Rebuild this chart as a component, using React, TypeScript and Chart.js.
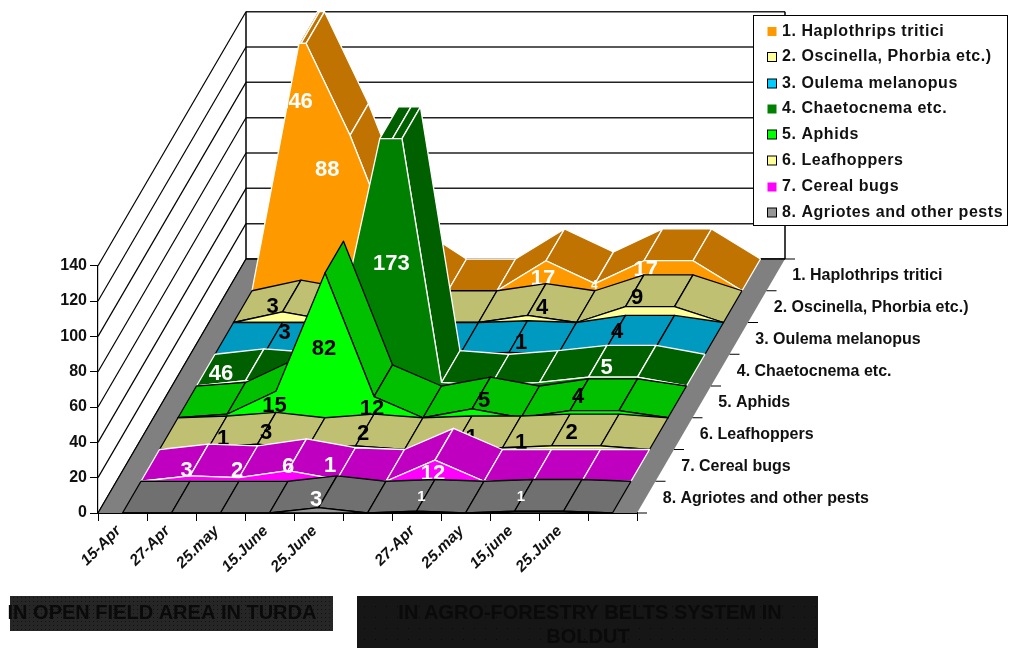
import React, { useEffect, useRef } from "react";
import { Chart, registerables } from "chart.js";

Chart.register(...registerables);

const FONT = "'Liberation Sans', Arial, sans-serif";

const categories = ["15-Apr", "27-Apr", "25.may", "15.June", "25.June", "", "27-Apr", "25.may", "15.june", "25.June", ""];

const seriesNames = [
  "1. Haplothrips tritici",
  "2. Oscinella, Phorbia etc.)",
  "3. Oulema melanopus",
  "4. Chaetocnema etc.",
  "5. Aphids",
  "6. Leafhoppers",
  "7. Cereal bugs",
  "8. Agriotes and other pests",
];

const haplothrips = [0, 146, 88, 18, 0, 0, 17, 4, 17, 17, 0];
const oscinella = [0, 6, 1, 3, 0, 0, 4, 0, 9, 9, 0];
const oulema = [0, 0, 0, 3, 0, 0, 1, 0, 4, 4, 0];
const chaetocnema = [0, 3, 1, 46, 173, 2, 0, 2, 5, 5, 0];
const aphids = [0, 2, 15, 82, 12, 0, 5, 0, 4, 4, 0];
const leafhoppers = [0, 1, 3, 0, 2, 0, 1, 1, 2, 2, 0];
const cerealBugs = [0, 3, 2, 6, 1, 0, 12, 0, 0, 0, 0];
const agriotes = [0, 0, 0, 0, 3, 0, 1, 0, 1, 1, 0];

const seriesValues = [haplothrips, oscinella, oulema, chaetocnema, aphids, leafhoppers, cerealBugs, agriotes];

// Which categories of each series carry a printed value.
const labelledPoints = [
  [1, 2, 6, 7, 8],
  [3, 6, 8],
  [3, 6, 8],
  [3, 4, 8],
  [2, 3, 4, 6, 8],
  [1, 2, 4, 6, 7, 8],
  [1, 2, 3, 4, 6],
  [4, 6, 8],
];

// Hand placement of those values, relative to the foot of the point: [dx, dy, font size].
const labelPlacement: number[][][] = [
  [[-6.5, -190, 22], [-22.8, -121.5, 22], [-3, -12.5, 22], [-0.7, -5.7, 12], [1.7, -21.5, 22]],
  [[-108, -16.5, 22], [14.5, -15.5, 22], [11.5, -25.5, 22]],
  [[-77.3, -22.3, 22], [12, -12, 22], [10, -23.3, 22]],
  [[-122.5, -12.7, 22], [-1.2, -122.7, 22], [18.2, -19.3, 22]],
  [[-1.5, -12.75, 22], [-1, -69.75, 22], [-2, -9.75, 22], [12, -17.75, 22], [8, -22, 22]],
  [[14.5, -11.5, 22], [8.5, -17.8, 22], [7.5, -16.8, 22], [18, -12.8, 22], [18.5, -7.8, 22], [20, -17.5, 22]],
  [[-3.3, -11, 22], [-1.8, -11, 22], [0, -15.5, 22], [-7, -16, 22], [-2, -8, 22]],
  [[-2.5, -14, 22], [5, -17, 15], [6.5, -17, 15]],
];

const faceColors = ["#ff9900", "#ffff99", "#00ccff", "#008000", "#00ff00", "#ffff99", "#ff00ff", "#969696"];
const topColors = ["#c07300", "#c0c073", "#0099bf", "#006000", "#00c000", "#c0c073", "#c000c0", "#707070"];
const edgeColors = ["#ffffff", "#000000", "#000000", "#ffffff", "#000000", "#000000", "#ffffff", "#000000"];
const valueColors = ["#ffffff", "#000000", "#000000", "#ffffff", "#000000", "#000000", "#ffffff", "#ffffff"];

const yMax = 140;
const depthCount = seriesNames.length;
const depthDX = 18.5;
const depthDY = 31.75;

type Pt = { x: number; y: number };
type Knot = { i: number; v: number };

// Values above the axis maximum are cut off flat, so add the crossing points to the profile.
function clippedProfile(values: number[]): Knot[] {
  const out: Knot[] = [];
  values.forEach((v, i) => {
    if (i > 0) {
      const p = values[i - 1];
      if ((p - yMax) * (v - yMax) < 0) out.push({ i: i - 1 + (yMax - p) / (v - p), v: yMax });
    }
    out.push({ i, v: Math.min(v, yMax) });
  });
  return out;
}

function poly(ctx: CanvasRenderingContext2D, pts: Pt[], fill: string, stroke: string | null) {
  ctx.beginPath();
  pts.forEach((p, n) => (n ? ctx.lineTo(p.x, p.y) : ctx.moveTo(p.x, p.y)));
  ctx.closePath();
  ctx.fillStyle = fill;
  ctx.fill();
  if (stroke) {
    ctx.strokeStyle = stroke;
    ctx.lineWidth = 1.3;
    ctx.lineJoin = "round";
    ctx.stroke();
  }
}

function line(ctx: CanvasRenderingContext2D, a: Pt, b: Pt, color = "#000", width = 1) {
  ctx.beginPath();
  ctx.moveTo(a.x, a.y);
  ctx.lineTo(b.x, b.y);
  ctx.strokeStyle = color;
  ctx.lineWidth = width;
  ctx.stroke();
}

const walls3d = {
  id: "walls3d",
  beforeDatasetsDraw(chart: any) {
    const { ctx, scales } = chart;
    const xs = scales.x;
    const ys = scales.y;
    const left = xs.left;
    const right = xs.right;
    const bottom = ys.getPixelForValue(0);
    const backDX = depthDX * depthCount;
    const backDY = depthDY * depthCount;
    ctx.save();
    for (const tick of ys.ticks) {
      const y = ys.getPixelForValue(tick.value);
      line(ctx, { x: left, y }, { x: left + backDX, y: y - backDY }, "#000", 1.2);
      line(ctx, { x: left + backDX, y: y - backDY }, { x: right + backDX, y: y - backDY }, "#222", 1.5);
    }
    const top = ys.getPixelForValue(yMax);
    line(ctx, { x: left + backDX, y: bottom - backDY }, { x: left + backDX, y: top - backDY }, "#000", 1.5);
    line(ctx, { x: right + backDX, y: bottom - backDY }, { x: right + backDX, y: top - backDY }, "#000", 1.5);
    poly(
      ctx,
      [
        { x: left, y: bottom },
        { x: right, y: bottom },
        { x: right + backDX, y: bottom - backDY },
        { x: left + backDX, y: bottom - backDY },
      ],
      "#808080",
      null
    );
    line(ctx, { x: left, y: bottom }, { x: left + backDX, y: bottom - backDY }, "#000", 1.2);
    line(ctx, { x: left + backDX, y: bottom - backDY }, { x: right + backDX, y: bottom - backDY }, "#000", 1.5);
    // Depth axis: ticks and series names along the right edge of the floor.
    for (let t = 0; t <= depthCount; t++) {
      const px = right + depthDX * t;
      const py = bottom - depthDY * t;
      line(ctx, { x: px, y: py }, { x: px + 10, y: py }, "#000", 1);
    }
    ctx.fillStyle = "#111";
    ctx.font = `bold 16px ${FONT}`;
    ctx.textAlign = "left";
    ctx.textBaseline = "middle";
    seriesNames.forEach((name, s) => {
      const t = depthCount - 1 - s + 0.5;
      ctx.fillText(name, right + depthDX * t + 16.5, bottom - depthDY * t + 1);
    });
    ctx.restore();
  },
};

const areas3d = {
  id: "areas3d",
  afterDatasetsDraw(chart: any) {
    const { ctx, scales } = chart;
    const xs = scales.x;
    const ys = scales.y;
    const project = (i: number, v: number, t: number): Pt => ({
      x: xs.getPixelForValue(i) + depthDX * t,
      y: ys.getPixelForValue(v) - depthDY * t,
    });
    ctx.save();
    // Paint from the rear series forward; later series hide what stands behind them.
    chart.data.datasets.forEach((ds: any, s: number) => {
      const d = depthCount - 1 - s;
      const knots = clippedProfile(ds.data);
      for (let k = 0; k < knots.length - 1; k++) {
        const a = project(knots[k].i, knots[k].v, d);
        const b = project(knots[k + 1].i, knots[k + 1].v, d);
        const c = project(knots[k + 1].i, knots[k + 1].v, d + 1);
        const e = project(knots[k].i, knots[k].v, d + 1);
        const cross = (b.x - a.x) * (e.y - a.y) - (b.y - a.y) * (e.x - a.x);
        if (cross < 0) poly(ctx, [a, b, c, e], topColors[s], edgeColors[s]);
      }
      const face = knots.map((n) => project(n.i, n.v, d));
      face.push(project(knots[knots.length - 1].i, 0, d), project(knots[0].i, 0, d));
      poly(ctx, face, faceColors[s], edgeColors[s]);

      ctx.fillStyle = valueColors[s];
      ctx.textAlign = "center";
      ctx.textBaseline = "middle";
      labelledPoints[s].forEach((i, n) => {
        const [dx, dy, size] = labelPlacement[s][n];
        const foot = project(i, 0, d);
        ctx.font = `bold ${size}px ${FONT}`;
        ctx.fillText(String(ds.data[i]), foot.x + dx, foot.y + dy + 1);
      });
    });
    ctx.restore();
  },
};

function dottedFill(ctx: CanvasRenderingContext2D, base: string, dot: string, step: number) {
  const tile = document.createElement("canvas");
  tile.width = step;
  tile.height = step;
  const t = tile.getContext("2d")!;
  t.fillStyle = base;
  t.fillRect(0, 0, step, step);
  t.fillStyle = dot;
  t.fillRect(1, 1, 1, 1);
  return ctx.createPattern(tile, "repeat")!;
}

const panels = {
  id: "panels",
  afterDraw(chart: any) {
    const { ctx } = chart;
    ctx.save();
    // Legend box
    ctx.fillStyle = "#fff";
    ctx.fillRect(753.5, 15.5, 254, 210);
    ctx.strokeStyle = "#000";
    ctx.lineWidth = 1;
    ctx.strokeRect(753.5, 15.5, 254, 210);
    const rows = [31.5, 57, 83.5, 109, 134.5, 160.5, 187, 212.5];
    ctx.font = `bold 16px ${FONT}`;
    ctx.textAlign = "left";
    ctx.textBaseline = "middle";
    chart.data.datasets.forEach((ds: any, s: number) => {
      const y = rows[s];
      ctx.fillStyle = faceColors[s];
      ctx.fillRect(767.5, y - 4.5, 9, 9);
      if (edgeColors[s] === "#000000") {
        ctx.strokeStyle = "#000";
        ctx.strokeRect(767.5, y - 4.5, 9, 9);
      }
      ctx.fillStyle = "#111";
      (ctx as any).letterSpacing = "0.55px";
      ctx.fillText(ds.label, 782, y);
      (ctx as any).letterSpacing = "0px";
    });

    // Site captions under the axis
    ctx.fillStyle = dottedFill(ctx, "#262626", "#111", 4);
    ctx.fillRect(10, 596, 323, 35);
    ctx.fillStyle = dottedFill(ctx, "#161616", "#080808", 11);
    ctx.fillRect(357, 596, 461, 52);
    ctx.font = `bold 20px ${FONT}`;
    ctx.textAlign = "center";
    ctx.fillStyle = "#0a0a0a";
    ctx.fillText("IN OPEN FIELD AREA IN TURDA", 162, 613);
    ctx.fillText("IN AGRO-FORESTRY BELTS SYSTEM IN", 590, 613);
    ctx.fillText("BOLDUT", 588, 637);
    ctx.restore();
  },
};

export default function App() {
  const ref = useRef<HTMLCanvasElement | null>(null);
  useEffect(() => {
    document.body.style.margin = "0";
    const chart = new Chart(ref.current!, {
      type: "line",
      data: {
        labels: categories,
        datasets: seriesNames.map((label, s) => ({
          label,
          data: seriesValues[s],
          showLine: false,
          pointRadius: 0,
        })),
      },
      plugins: [walls3d, areas3d, panels],
      options: {
        responsive: false,
        animation: false,
        layout: { padding: { top: 265.7, right: 375, left: 0, bottom: 0 } },
        plugins: { legend: { display: false }, tooltip: { enabled: false } },
        scales: {
          x: {
            type: "category",
            offset: true,
            afterFit: (scale: any) => {
              scale.height = 135;
            },
            grid: { offset: true, drawOnChartArea: false, color: "#000", tickLength: 8 },
            border: { color: "#000", width: 2 },
            ticks: {
              autoSkip: false,
              minRotation: 45,
              maxRotation: 45,
              color: "#111",
              padding: 1,
              labelOffset: -4,
              font: { family: FONT, weight: "bold", style: "italic", size: 15.5 },
            },
          },
          y: {
            min: 0,
            max: yMax,
            afterFit: (scale: any) => {
              scale.width = 98;
            },
            grid: { drawOnChartArea: false, color: "#000", tickLength: 8 },
            border: { color: "#000", width: 1.2 },
            ticks: {
              stepSize: 20,
              color: "#111",
              padding: 3,
              font: { family: FONT, weight: "bold", size: 16 },
            },
          },
        },
      },
    } as any);
    return () => chart.destroy();
  }, []);
  return <canvas ref={ref} width={1012} height={648} style={{ display: "block" }} />;
}
